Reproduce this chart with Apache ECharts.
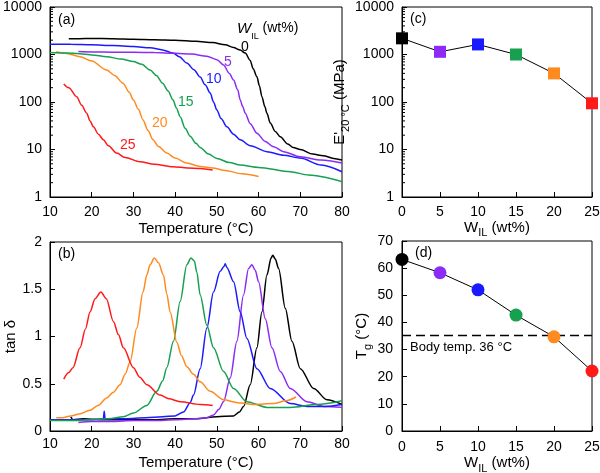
<!DOCTYPE html>
<html>
<head>
<meta charset="utf-8">
<script src="https://cdn.jsdelivr.net/npm/echarts@6/dist/echarts.min.js"></script>
<style>html,body{margin:0;padding:0;background:#fff}#c{width:600px;height:473px}</style>
</head>
<body>
<div id="c"></div>
<script>
// ---------- Data ----------
const seriesNames = ['0', '5', '10', '15', '20', '25'];
const colors = ['#000000', '#8c2bf5', '#1a1aff', '#17a050', '#ff8a1f', '#ff1a1a'];

// Panel (a): storage modulus E' (MPa) vs temperature
const aT0 = [14.5,17,20,25,30,35,40,45,49,52,54,55.6,56.8,58,58.7,59.6,60.2,60.8,61.5,62,62.8,64,65.2,67,68.3,70,73,75.5,78,80];
const aE0 = [2150,2150,2180,2150,2100,2050,2000,1900,1780,1600,1400,1240,1070,750,500,340,220,129,80,58,36,24,18.6,13,11,10,8,7.4,6.5,6];
const aT5 = [16.8,20,25,30,35,40,44,47.6,50,51.6,53,54,55,55.6,56.2,56.8,58,59.6,61.5,63.6,66,70,75,80];
const aE5 = [1150,1130,1120,1110,1100,1060,1020,920,780,600,400,290,180,110,80,58,35,22,15,11.4,9,7,6,5.2];
const aT10 = [10,15,20,25,30,34,37,39.5,41,42.8,44.5,46,47.2,48.4,49.2,50,51,52.4,54,55.6,58,62,66,70,75,80];
const aE10 = [1650,1640,1600,1540,1470,1390,1250,1070,900,660,480,335,230,155,100,68,45,30,21,16,12,9,7.6,6.6,4.7,3.4];
const aT15 = [10,13,15.5,20,23.6,27,30,32,34,35.5,37,38.3,39.5,40.3,41.2,42.4,43.6,45,46,48,50,53,55.6,60,67.6,72,80];
const aE15 = [1100,1080,1060,980,900,800,710,620,470,360,247,170,110,75,49,28,19,13.5,11,8,6.5,5.3,4.7,4.2,3.4,2.9,2.1];
const aT20 = [11.5,14,17.2,20,23.6,25.5,27.5,29,30,31.2,32.3,33.5,34.7,36,38,40,42.8,46,49,52,56,60];
const aE20 = [1140,1050,900,730,470,360,248,160,110,70,42,25,16,11.5,8.4,6.6,5.2,4.4,4.1,3.6,3.1,2.7];
const aT25 = [13.3,14.5,16.4,17.6,18.8,19.6,20.4,21.6,22.8,24,26,28,31.6,35,39.5,43,46,49];
const aE25 = [240,200,129,85,58,40,30,21,16,12,8.4,6.8,5.5,4.9,4.35,4.1,4,3.7];

// Panel (b): tan delta vs temperature
const bT0 = [15,15.5,18,22,26,30,35,40,45,50,54,55.4,56.4,58,59.6,60.8,62,63,63.4,64,64.8,66.4,68,70,73.2,76.4,80];
const bD0 = [0.15,0.12,0.13,0.12,0.12,0.12,0.12,0.13,0.13,0.15,0.16,0.2,0.26,0.49,0.88,1.26,1.65,1.83,1.86,1.82,1.72,1.3,0.95,0.66,0.45,0.33,0.28];
const bT5 = [16.8,20,25,30,35,40,45,47.5,49.2,50.5,51.6,53.2,54.8,56.4,57.6,58.4,59.2,60,61.6,63.2,65.2,67.6,71.6,75.6,80];
const bD5 = [0.09,0.1,0.1,0.11,0.11,0.12,0.13,0.14,0.17,0.23,0.31,0.56,0.95,1.44,1.72,1.76,1.7,1.58,1.19,0.88,0.63,0.45,0.31,0.26,0.25];
const bT10 = [10,15,20,22.8,23,23.2,28,33,37,40,42,43.6,44.4,46,47.6,49.2,50.8,51.7,52,52.4,54,55.6,57.2,59.6,62.8,67.6,71.6,76,80];
const bD10 = [0.12,0.12,0.12,0.13,0.21,0.13,0.13,0.14,0.15,0.16,0.2,0.3,0.38,0.66,1.09,1.47,1.69,1.74,1.77,1.73,1.58,1.26,0.98,0.66,0.45,0.29,0.26,0.26,0.28];
const bT15 = [10,15,20,24,27.6,30,33.2,35.6,37,38,39.6,41.2,42.8,43.8,44.6,45.2,46,47.6,49.2,51.6,54,57.2,62,67.6,74,80];
const bD15 = [0.11,0.11,0.12,0.13,0.15,0.19,0.27,0.42,0.53,0.67,0.95,1.37,1.76,1.83,1.8,1.68,1.44,1.12,0.88,0.63,0.45,0.31,0.25,0.25,0.28,0.32];
const bT20 = [11.5,13,15,17,19.6,21.5,23.6,25.2,26.8,28,29.2,30.8,32.3,33.2,34,35,36,37.2,38,38.8,40.4,41.5,42.8,44.4,46,48.4,51.6,55,58.8,63.6,66.5,69];
const bD20 = [0.14,0.14,0.16,0.18,0.22,0.27,0.35,0.41,0.49,0.6,0.73,1.09,1.47,1.65,1.76,1.83,1.78,1.65,1.45,1.26,0.94,0.8,0.68,0.6,0.52,0.42,0.33,0.3,0.28,0.29,0.32,0.36];
const bT25 = [13.3,14.5,15.5,17.2,18.5,19.6,20.8,22.2,23.5,25.2,26.4,27.6,30,31.5,33.2,36.4,38.5,41.2,46,49];
const bD25 = [0.55,0.62,0.67,0.88,1.08,1.26,1.4,1.47,1.4,1.16,1.02,0.88,0.67,0.57,0.49,0.38,0.34,0.31,0.28,0.27];

// Panels (c), (d)
const wIL = [0, 5, 10, 15, 20, 25];
const e20 = [2190, 1140, 1630, 1000, 400, 94];
const tg = [63.2, 58.3, 52, 42.7, 34.7, 22.1];
const bodyTemp = 35.3;

// Tick labels / minor log ticks
const logMinor = [2,3,4,5,6,7,8,9,20,30,40,50,60,70,80,90,200,300,400,500,600,700,800,900,2000,3000,4000,5000,6000,7000,8000,9000];

// ---------- Build ----------
const FONT = "'Liberation Sans', Arial, sans-serif";
const pair = (xs, ys) => xs.map((x, i) => [x, ys[i]]);
const aT = [aT0, aT5, aT10, aT15, aT20, aT25];
const aE = [aE0, aE5, aE10, aE15, aE20, aE25];
const bT = [bT0, bT5, bT10, bT15, bT20, bT25];
const bD = [bD0, bD5, bD10, bD15, bD20, bD25];

const axisCommon = {
  axisLine: { show: true, lineStyle: { color: '#000', width: 1 } },
  axisTick: { show: true, inside: true, length: 5, lineStyle: { color: '#000' } },
  axisLabel: { color: '#000', fontSize: 14, fontFamily: FONT, margin: 8 },
  splitLine: { show: false },
  nameTextStyle: { color: '#000', fontSize: 15, fontFamily: FONT },
  nameLocation: 'middle'
};
const logLabel = Object.assign({}, axisCommon.axisLabel, { formatter: v => String(Math.round(v)) });
const rich = {
  sub: { fontSize: 11, fontFamily: FONT, color: '#000', verticalAlign: 'bottom', padding: [0, 0, -4, 0] },
  n: { fontSize: 15, fontFamily: FONT, color: '#000' }
};

const grid = [
  { left: 50, top: 7, width: 292, height: 190 },
  { left: 50, top: 242, width: 292, height: 189 },
  { left: 402, top: 7, width: 190, height: 190 },
  { left: 402, top: 241, width: 190, height: 190 }
].map(g => Object.assign(g, { show: true, borderColor: '#000', borderWidth: 1, backgroundColor: '#fff', containLabel: false, outerBoundsMode: 'none' }));

const xAxis = [
  Object.assign({}, axisCommon, { gridIndex: 0, type: 'value', min: 10, max: 80, interval: 10, name: 'Temperature (°C)', nameGap: 24 }),
  Object.assign({}, axisCommon, { gridIndex: 1, type: 'value', min: 10, max: 80, interval: 10, name: 'Temperature (°C)', nameGap: 24, axisLabel: Object.assign({}, axisCommon.axisLabel, { margin: 6 }) }),
  Object.assign({}, axisCommon, { gridIndex: 2, type: 'value', min: 0, max: 25, interval: 5, name: '{n|W}{sub|IL}{n| (wt%)}', nameGap: 22, nameTextStyle: { rich: rich } }),
  Object.assign({}, axisCommon, { gridIndex: 3, type: 'value', min: 0, max: 25, interval: 5, name: '{n|W}{sub|IL}{n| (wt%)}', nameGap: 24, nameTextStyle: { rich: rich }, axisLabel: Object.assign({}, axisCommon.axisLabel, { margin: 9 }) })
];
const yAxis = [
  Object.assign({}, axisCommon, { gridIndex: 0, type: 'log', logBase: 10, min: 1, max: 10000, name: "E' (MPa)", nameGap: 32, nameRotate: 90, axisLabel: logLabel }),
  Object.assign({}, axisCommon, { gridIndex: 1, type: 'value', min: 0, max: 2, interval: 0.5, name: 'tan δ', nameGap: 31, nameRotate: 90 }),
  Object.assign({}, axisCommon, { gridIndex: 2, type: 'log', logBase: 10, min: 1, max: 10000, name: "{n|E'}{sub|20 °C}{n| (MPa)}", nameGap: 40, nameRotate: 90, nameTextStyle: { rich: rich }, axisLabel: logLabel }),
  Object.assign({}, axisCommon, { gridIndex: 3, type: 'value', min: 0, max: 70, interval: 10, name: '{n|T}{sub|g}{n| (°C)}', nameGap: 28, nameRotate: 90, nameTextStyle: { rich: rich }, axisLabel: Object.assign({}, axisCommon.axisLabel, { margin: 9 }) })
];

const series = [];
seriesNames.forEach((nm, i) => {
  series.push({ type: 'line', xAxisIndex: 0, yAxisIndex: 0, data: pair(aT[i], aE[i]), showSymbol: false, smooth: 0.3, smoothMonotone: 'x', lineStyle: { color: colors[i], width: 1.5 }, silent: true, z: 3 + (5 - i) });
  series.push({ type: 'line', xAxisIndex: 1, yAxisIndex: 1, data: pair(bT[i], bD[i]), showSymbol: false, smooth: 0.3, smoothMonotone: 'x', lineStyle: { color: colors[i], width: 1.5 }, silent: true, z: 3 + i });
});
series.push({
  type: 'line', xAxisIndex: 2, yAxisIndex: 2, data: wIL.map((w, i) => ({ value: [w, e20[i]], itemStyle: { color: colors[i] } })),
  symbol: 'rect', symbolSize: 12, showSymbol: true, lineStyle: { color: '#000', width: 1 }, z: 5
});
series.push({
  type: 'line', xAxisIndex: 3, yAxisIndex: 3, data: wIL.map((w, i) => ({ value: [w, tg[i]], itemStyle: { color: colors[i] } })),
  symbol: 'circle', symbolSize: 13, showSymbol: true, lineStyle: { color: '#000', width: 1 }, z: 5,
  markLine: { silent: true, symbol: 'none', label: { show: false }, lineStyle: { color: '#000', type: [9, 5], width: 1.3 }, data: [{ yAxis: bodyTemp }] }
});
// minor log ticks for (a) and (c)
[[0, 10], [2, 0]].forEach(([gi, xmin]) => {
  series.push({
    type: 'custom', xAxisIndex: gi, yAxisIndex: gi, silent: true, z: 10,
    data: logMinor.map(v => [xmin, v]),
    renderItem: (params, api) => {
      const p = api.coord([api.value(0), api.value(1)]);
      return { type: 'line', shape: { x1: p[0], y1: p[1], x2: p[0] + 3, y2: p[1] }, style: { stroke: '#000', lineWidth: 1 } };
    }
  });
});

const txt = (x, y, text, color, size, extra) => ({ type: 'text', left: x, top: y, z: 100, style: Object.assign({ text: text, fill: color || '#000', font: (size || 14) + 'px ' + FONT }, extra || {}) });

const graphic = [
  txt(58, 13, '(a)', '#000', 14),
  txt(58, 247, '(b)', '#000', 14),
  txt(410, 12, '(c)', '#000', 14),
  txt(415, 246, '(d)', '#000', 14),
  { type: 'text', left: 237, top: 21, z: 100, style: { text: '{w|W}{s|IL}{t| (wt%)}', rich: {
      w: { font: 'italic 15px ' + FONT, fill: '#000' },
      s: { font: '9px ' + FONT, fill: '#000', verticalAlign: 'bottom', padding: [0, 0, -5, 0] },
      t: { font: '14px ' + FONT, fill: '#000' } } } },
  txt(241, 40, '0', colors[0], 14),
  txt(224, 55, '5', colors[1], 14),
  txt(206, 72, '10', colors[2], 14),
  txt(178, 95, '15', colors[3], 14),
  txt(152, 116, '20', colors[4], 14),
  txt(120, 138, '25', colors[5], 14),
  txt(410, 341, 'Body temp. 36 °C', '#000', 13)
];

const chart = echarts.init(document.getElementById('c'), null, { renderer: 'canvas' });
chart.setOption({ animation: false, backgroundColor: '#fff', grid, xAxis, yAxis, series, graphic });
</script>
</body>
</html>
